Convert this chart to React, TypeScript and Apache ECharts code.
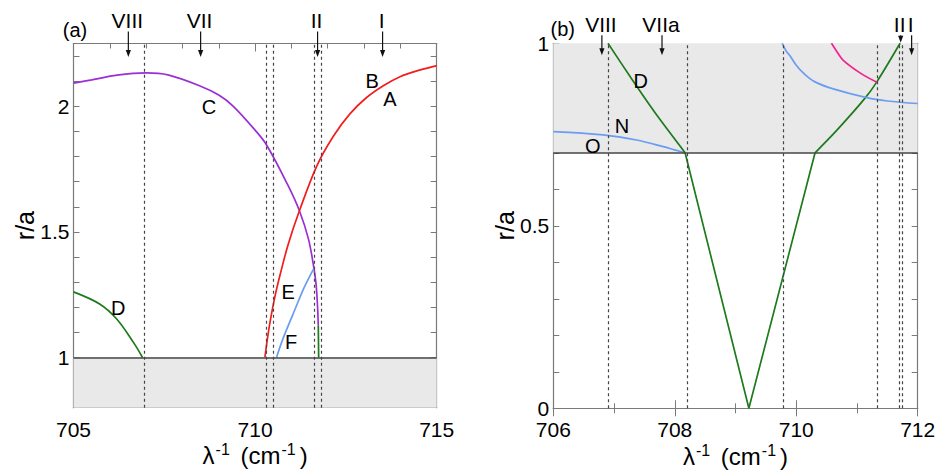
import { useEffect, useRef } from "react";
import * as echarts from "echarts";

const FONT = '"Liberation Sans", Arial, Helvetica, sans-serif';

// ---------- panel (a) ----------
const aXRange = [705, 715];
const aYRange = [0.8, 2.25];
const aYLabels = [1, 1.5, 2];

const aC_x = [705, 705.5, 706.2, 707.0, 707.6, 708.5, 709.0, 709.4, 710.0, 710.32, 710.91, 711.22, 711.47, 711.62, 711.68, 711.72, 711.74];
const aC_y = [2.092, 2.105, 2.124, 2.133, 2.125, 2.08, 2.045, 2.0, 1.905, 1.845, 1.684, 1.584, 1.471, 1.355, 1.29, 1.2, 1.126];

const aA_x = [710.27, 710.34, 710.41, 710.55, 710.69, 710.91, 711.22, 711.7, 712.15, 712.61, 713.07, 713.53, 713.99, 714.5, 715];
const aA_y = [1.0, 1.075, 1.14, 1.245, 1.33, 1.45, 1.584, 1.763, 1.88, 1.97, 2.035, 2.082, 2.118, 2.143, 2.162];

const aE_x = [710.59, 710.73, 710.91, 711.1, 711.33, 711.51, 711.62];
const aE_y = [1.0, 1.06, 1.126, 1.192, 1.272, 1.325, 1.355];

const aD_x = [705, 705.73, 706.19, 706.65, 706.9];
const aD_y = [1.261, 1.212, 1.153, 1.06, 1.0];

const aG_x = [711.74, 711.75];
const aG_y = [1.126, 1.0];

const aDashed = [706.95, 710.31, 710.51, 711.62, 711.82];
const aRoman = ["VIII", "VII", "II", "I"];
const aRomanX = [706.51, 708.5, 711.72, 713.51];
const aLetters = ["B", "A", "C", "D", "E", "F"];
const aLetterX = [713.22, 713.71, 708.73, 706.23, 710.91, 710.99];
const aLetterY = [2.1, 2.03, 1.997, 1.197, 1.26, 1.061];
const aShadeBand = [0.8, 1.0];
const aBaseLine = 1.0;

// ---------- panel (b) ----------
const bXRange = [706, 712];
const bYRange = [0, 1];
const bYLabels = [0, 0.5, 1];

const bO_x = [706, 706.82, 707.37, 707.81, 708.0, 708.17];
const bO_y = [0.758, 0.749, 0.735, 0.717, 0.708, 0.7];

const bDL_x = [706.9, 707.3, 707.7, 708.17];
const bDL_y = [1.0, 0.9, 0.804, 0.7];

const bV_x = [708.17, 709.22, 710.31];
const bV_y = [0.7, 0.0, 0.7];

const bDR_x = [710.31, 710.67, 711.13, 711.33, 711.71];
const bDR_y = [0.7, 0.762, 0.849, 0.895, 1.0];

const bBlue_x = [709.77, 709.83, 709.9, 710.0, 710.12, 710.3, 710.61, 711.16, 711.5, 712];
const bBlue_y = [1.0, 0.98, 0.965, 0.94, 0.918, 0.895, 0.875, 0.851, 0.842, 0.835];

const bPink_x = [710.58, 710.67, 710.77, 711.05, 711.33];
const bPink_y = [1.0, 0.977, 0.954, 0.919, 0.893];

const bDashed = [706.9, 708.2, 709.79, 711.33, 711.7, 711.74];
const bRoman = ["VIII", "VIIa", "II", "I"];
const bRomanX = [706.8, 707.79, 711.72, 711.9];
const bLetters = ["D", "N", "O"];
const bLetterX = [707.44, 707.13, 706.65];
const bLetterY = [0.896, 0.773, 0.719];
const bShadeBand = [0.7, 1.0];
const bBaseLine = 0.7;

const RED = "#f21d1d";
const PURPLE = "#9a2fd6";
const BLUE = "#6a9cf0";
const GREEN = "#1d7a1d";
const PINK = "#f2228f";
const FRAME = "#7a7a7a";

const zip = (xs: number[], ys: number[]) => xs.map((x, i) => [x, ys[i]]);

function curve(xs: number[], ys: number[], color: string, g: number, smooth: number | boolean = 0.35) {
  return {
    type: "line",
    xAxisIndex: g * 2,
    yAxisIndex: g * 2,
    data: zip(xs, ys),
    showSymbol: false,
    symbol: "none",
    smooth,
    lineStyle: { color, width: 1.7 },
    z: 3,
    silent: true,
    clip: true,
  };
}

function backdrop(g: number, band: number[], base: number, dashed: number[], xStart: number) {
  return {
    type: "line",
    xAxisIndex: g * 2,
    yAxisIndex: g * 2,
    data: [[xStart, base]],
    showSymbol: false,
    symbol: "none",
    lineStyle: { opacity: 0 },
    z: 1,
    silent: true,
    markArea: {
      silent: true,
      itemStyle: { color: "#e9e9e9" },
      data: [[{ yAxis: band[0] }, { yAxis: band[1] }]],
    },
    markLine: {
      silent: true,
      symbol: "none",
      label: { show: false },
      animation: false,
      data: [
        { yAxis: base, lineStyle: { color: "#444", width: 1.6, type: "solid" } },
        ...dashed.map((v) => ({ xAxis: v, lineStyle: { color: "#444", width: 1.2, type: [3, 3] } })),
      ],
    },
  };
}

const xName = "{m|λ}{s|-1}{m| (cm}{s|-1}{m|)}";
const xNameStyle = {
  color: "#000",
  fontFamily: FONT,
  rich: {
    m: { fontSize: 24, fontFamily: FONT, color: "#000", lineHeight: 28 },
    s: { fontSize: 16, fontFamily: FONT, color: "#000", lineHeight: 8, verticalAlign: "top", padding: [0, 4, 0, 1] },
  },
};

function xAxes(g: number, range: number[], interval: number, split: number) {
  const common = {
    type: "value",
    gridIndex: g,
    min: range[0],
    max: range[1],
    interval,
    axisLine: { show: true, lineStyle: { color: FRAME, width: 1.2 } },
    axisTick: { show: true, inside: true, length: 8, lineStyle: { color: FRAME } },
    minorTick: { show: true, splitNumber: split, length: 5, lineStyle: { color: FRAME } },
    splitLine: { show: false },
    minorSplitLine: { show: false },
  };
  return [
    {
      ...common,
      position: "bottom",
      axisLabel: { color: "#000", fontSize: 21, fontFamily: FONT, margin: 11 },
      name: xName,
      nameLocation: "middle",
      nameGap: 34,
      nameMoveOverlap: false,
      nameTextStyle: xNameStyle,
    },
    { ...common, position: "top", axisLabel: { show: false } },
  ];
}

function yAxes(g: number, range: number[], labels: number[]) {
  const common = {
    type: "value",
    gridIndex: g,
    min: range[0],
    max: range[1],
    interval: 0.1,
    axisLine: { show: true, lineStyle: { color: FRAME, width: 1.2 } },
    axisTick: { show: true, inside: true, length: 6, lineStyle: { color: FRAME } },
    splitLine: { show: false },
  };
  return [
    {
      ...common,
      position: "left",
      axisLabel: {
        color: "#000",
        fontSize: 21,
        fontFamily: FONT,
        margin: 4,
        formatter: (v: number) => {
          const hit = labels.find((l) => Math.abs(l - v) < 1e-6);
          return hit === undefined ? "" : String(hit);
        },
      },
      name: "r/a",
      nameLocation: "middle",
      nameGap: 36,
      nameMoveOverlap: false,
      nameTextStyle: { color: "#000", fontSize: 25, fontFamily: FONT },
    },
    { ...common, position: "right", axisLabel: { show: false } },
  ];
}

export default function App() {
  const ref = useRef<HTMLDivElement>(null);

  useEffect(() => {
    if (!ref.current) return;
    const chart = echarts.init(ref.current, undefined, { renderer: "svg" });
    chart.setOption({
      animation: false,
      backgroundColor: "#ffffff",
      grid: [
        { left: 73.5, top: 43.5, width: 363.2, height: 364.2, containLabel: false, outerBoundsMode: "none" },
        { left: 553.3, top: 43.3, width: 364.4, height: 365, containLabel: false, outerBoundsMode: "none" },
      ],
      xAxis: [...xAxes(0, aXRange, 5, 5), ...xAxes(1, bXRange, 2, 2)],
      yAxis: [...yAxes(0, aYRange, aYLabels), ...yAxes(1, bYRange, bYLabels)],
      series: [
        backdrop(0, aShadeBand, aBaseLine, aDashed, aXRange[0]),
        backdrop(1, bShadeBand, bBaseLine, bDashed, bXRange[0]),
        curve(aC_x, aC_y, PURPLE, 0),
        curve(aA_x, aA_y, RED, 0),
        curve(aE_x, aE_y, BLUE, 0),
        curve(aD_x, aD_y, GREEN, 0),
        curve(aG_x, aG_y, GREEN, 0, false),
        curve(bO_x, bO_y, BLUE, 1),
        curve(bDL_x, bDL_y, GREEN, 1, 0.2),
        curve(bV_x, bV_y, GREEN, 1, false),
        curve(bDR_x, bDR_y, GREEN, 1, 0.3),
        curve(bBlue_x, bBlue_y, BLUE, 1),
        curve(bPink_x, bPink_y, PINK, 1),
      ],
    });

    const graphics: any[] = [];
    const txt = (text: string, x: number, y: number, size: number) => ({
      type: "text",
      silent: true,
      z: 10,
      style: { text, x, y, fill: "#000", fontSize: size, fontFamily: FONT, align: "center", verticalAlign: "middle" },
    });
    const arrow = (x: number, y0: number, tip: number) => {
      graphics.push({
        type: "line",
        silent: true,
        z: 10,
        shape: { x1: x, y1: y0, x2: x, y2: tip - 5 },
        style: { stroke: "#111", lineWidth: 1.2 },
      });
      graphics.push({
        type: "polygon",
        silent: true,
        z: 10,
        shape: { points: [[x - 2.6, tip - 7], [x + 2.6, tip - 7], [x, tip]] },
        style: { fill: "#111" },
      });
    };

    // panel (a)
    const aTop = chart.convertToPixel({ xAxisIndex: 0, yAxisIndex: 0 }, [aXRange[0], aYRange[1]]) as number[];
    graphics.push(txt("(a)", aTop[0] + 1.5, aTop[1] - 14, 20));
    aRoman.forEach((r, i) => {
      const p = chart.convertToPixel({ xAxisIndex: 0, yAxisIndex: 0 }, [aRomanX[i], aYRange[1]]) as number[];
      graphics.push(txt(r, p[0] - 1, p[1] - 23, 21));
      arrow(p[0], p[1] - 12, p[1] + 13.5);
    });
    aLetters.forEach((l, i) => {
      const p = chart.convertToPixel({ xAxisIndex: 0, yAxisIndex: 0 }, [aLetterX[i], aLetterY[i]]) as number[];
      graphics.push(txt(l, p[0], p[1], 20));
    });

    // panel (b)
    const bTop = chart.convertToPixel({ xAxisIndex: 2, yAxisIndex: 2 }, [bXRange[0], bYRange[1]]) as number[];
    graphics.push(txt("(b)", bTop[0] + 9.5, bTop[1] - 14, 20));
    bRoman.forEach((r, i) => {
      const p = chart.convertToPixel({ xAxisIndex: 2, yAxisIndex: 2 }, [bRomanX[i], bYRange[1]]) as number[];
      graphics.push(txt(r, p[0] - 1, p[1] - 19, 21));
      const short = r === "II";
      arrow(p[0], p[1] - 8, short ? p[1] - 0.5 : p[1] + 12);
    });
    bLetters.forEach((l, i) => {
      const p = chart.convertToPixel({ xAxisIndex: 2, yAxisIndex: 2 }, [bLetterX[i], bLetterY[i]]) as number[];
      graphics.push(txt(l, p[0], p[1], 20));
    });

    chart.setOption({ graphic: graphics });

    return () => chart.dispose();
  }, []);

  return (
    <div
      ref={ref}
      style={{ position: "absolute", left: 0, top: 0, width: 939, height: 471, background: "#fff" }}
    />
  );
}
